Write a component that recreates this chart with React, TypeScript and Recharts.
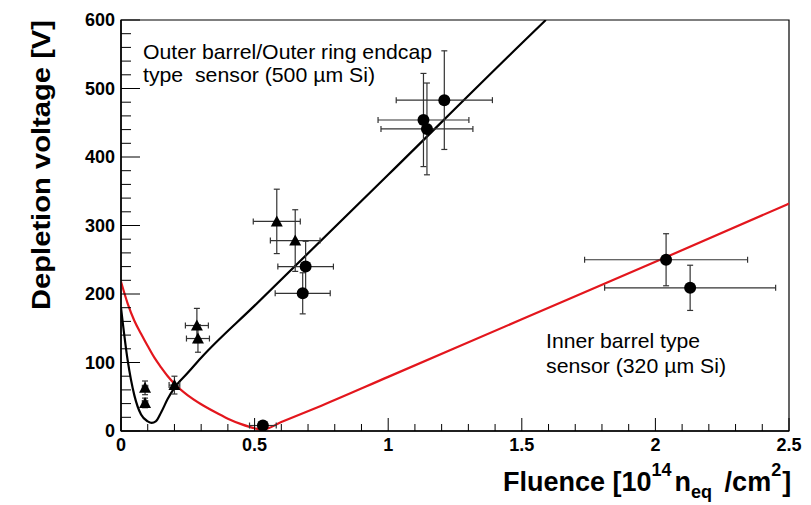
import {
  ComposedChart,
  XAxis,
  YAxis,
  Line,
  Scatter,
  ErrorBar,
  ReferenceArea,
} from 'recharts'

// fit curves
const outerCurveX = [0, 0.025, 0.05, 0.075, 0.1, 0.115, 0.13, 0.15, 0.175, 0.2, 0.25, 0.3, 0.5, 1.0, 1.5, 1.59]
const outerCurveY = [180, 103, 52, 24, 14, 12, 14, 27, 47, 63, 85, 107, 183, 374, 566, 600]

const innerCurveX = [0, 0.025, 0.05, 0.075, 0.1, 0.125, 0.15, 0.175, 0.2, 0.25, 0.3, 0.35, 0.4, 0.45, 0.5, 0.53, 0.6, 0.75, 1.0, 1.5, 2.0, 2.5]
const innerCurveY = [218, 186, 161, 142, 124, 107, 93, 80, 69, 52, 39, 28, 18, 10, 4, 2, 13, 37, 79, 163, 247, 332]

// triangles
const triX = [0.09, 0.09, 0.2, 0.284, 0.288, 0.583, 0.652]
const triY = [63, 41, 67, 154, 135, 306, 278]
const triXErr = [0.01, 0.01, 0.02, 0.043, 0.043, 0.088, 0.093]
const triYErr = [10, 7, 13, 25, 20, 47, 45]

// circles
const dotX = [0.531, 0.691, 0.68, 1.132, 1.145, 1.21, 2.04, 2.13]
const dotY = [8, 240, 201, 454, 441, 483, 250, 209]
const dotXErr = [0.05, 0.104, 0.103, 0.17, 0.172, 0.18, 0.305, 0.32]
const dotYErr = [5, 37, 30, 68, 67, 72, 38, 33]

// minor ticks every 0.1 / 20 V, labels on the majors only
const xTicks = Array.from({ length: 26 }, (_, i) => +(i * 0.1).toFixed(1))
const yTicks = Array.from({ length: 31 }, (_, i) => i * 20)

const outerCurve = outerCurveX.map((x, i) => ({ x, y: outerCurveY[i] }))
const innerCurve = innerCurveX.map((x, i) => ({ x, y: innerCurveY[i] }))
const triData = triX.map((x, i) => ({ x, y: triY[i], ex: triXErr[i], ey: triYErr[i] }))
const dotData = dotX.map((x, i) => ({ x, y: dotY[i], ex: dotXErr[i], ey: dotYErr[i] }))

const font = '"Liberation Sans", Arial, Helvetica, sans-serif'
const MARGIN = 7

const XTick = (props: any) => {
  const { x, y, payload } = props
  const v = payload.value
  const major = Math.abs(v * 2 - Math.round(v * 2)) < 1e-6
  const axisY = y - MARGIN
  return (
    <g>
      <line x1={x} x2={x} y1={axisY} y2={axisY - (major ? 13 : 7)} stroke="#000" />
      {major && (
        <text x={x} y={y} dy="0.71em" textAnchor="middle" fontSize={18} fontWeight="bold" fontFamily={font} fill="#000">
          {String(v)}
        </text>
      )}
    </g>
  )
}

const YTick = (props: any) => {
  const { x, y, payload } = props
  const v = payload.value
  const major = v % 100 === 0
  const axisX = x + MARGIN - 1
  return (
    <g>
      <line x1={axisX} x2={axisX + (major ? 19 : 10)} y1={y} y2={y} stroke="#000" />
      {major && (
        <text x={x} y={y} dy="0.36em" textAnchor="end" fontSize={18} fontWeight="bold" fontFamily={font} fill="#000">
          {String(v)}
        </text>
      )}
    </g>
  )
}

const Triangle = (props: any) => {
  const { cx, cy } = props
  if (cx == null || cy == null) return null
  return <polygon points={`${cx - 6},${cy + 5} ${cx + 6},${cy + 5} ${cx},${cy - 6}`} fill="#000" />
}

const Dot = (props: any) => {
  const { cx, cy } = props
  if (cx == null || cy == null) return null
  return <circle cx={cx} cy={cy} r={6} fill="#000" />
}

const App = () => {
  return (
    <div style={{ position: 'absolute', left: 0, top: 0, width: 811, height: 505, background: '#fff' }}>
      <ComposedChart
        width={811}
        height={505}
        margin={{ top: 20, right: 22, left: 61, bottom: 44 }}
      >
        <XAxis
          dataKey="x"
          type="number"
          domain={[0, 2.5]}
          allowDataOverflow
          ticks={xTicks}
          height={30}
          tickLine={false}
          tickSize={0}
          tickMargin={MARGIN}
          axisLine={{ stroke: '#000', strokeWidth: 1.5 }}
          tick={XTick}
          interval={0}
        />
        <YAxis
          type="number"
          domain={[0, 600]}
          allowDataOverflow
          ticks={yTicks}
          width={60}
          tickLine={false}
          tickSize={0}
          tickMargin={MARGIN - 1}
          axisLine={{ stroke: '#000', strokeWidth: 1.5 }}
          tick={YTick}
          interval={0}
        />
        <ReferenceArea x1={0} x2={2.5} y1={0} y2={600} fill="none" stroke="#000" strokeWidth={1.2} />
        <Line
          data={innerCurve}
          dataKey="y"
          type="monotone"
          stroke="#e3161d"
          strokeWidth={2.2}
          dot={false}
          isAnimationActive={false}
        />
        <Line
          data={outerCurve}
          dataKey="y"
          type="monotone"
          stroke="#000"
          strokeWidth={2.2}
          dot={false}
          isAnimationActive={false}
        />
        <Scatter data={triData} dataKey="y" shape={Triangle} isAnimationActive={false}>
          <ErrorBar dataKey="ex" direction="x" width={3} stroke="#333" strokeWidth={1.2} />
          <ErrorBar dataKey="ey" direction="y" width={3} stroke="#333" strokeWidth={1.2} />
        </Scatter>
        <Scatter data={dotData} dataKey="y" shape={Dot} isAnimationActive={false}>
          <ErrorBar dataKey="ex" direction="x" width={3} stroke="#333" strokeWidth={1.2} />
          <ErrorBar dataKey="ey" direction="y" width={3} stroke="#333" strokeWidth={1.2} />
        </Scatter>
      </ComposedChart>

      <svg
        width={811}
        height={505}
        style={{ position: 'absolute', left: 0, top: 0, pointerEvents: 'none' }}
        fontFamily={font}
      >
        <text x={143} y={59} fontSize={21} textLength={289} lengthAdjust="spacingAndGlyphs">
          Outer barrel/Outer ring endcap
        </text>
        <text x={143} y={82} fontSize={21} textLength={232} lengthAdjust="spacingAndGlyphs" style={{ whiteSpace: 'pre' }}>
          {'type  sensor (500 µm Si)'}
        </text>
        <text x={546} y={348} fontSize={21} textLength={154} lengthAdjust="spacingAndGlyphs">
          Inner barrel type
        </text>
        <text x={546} y={373} fontSize={21} textLength={180} lengthAdjust="spacingAndGlyphs">
          sensor (320 µm Si)
        </text>
        <text
          x={0}
          y={0}
          transform="translate(50,165) rotate(-90)"
          textAnchor="middle"
          fontSize={26}
          fontWeight="bold"
          textLength={290}
          lengthAdjust="spacingAndGlyphs"
        >
          Depletion voltage [V]
        </text>
        <text x={503} y={491} fontSize={27} fontWeight="bold">
          Fluence [10
          <tspan dy={-15} fontSize={18}>14</tspan>
          <tspan dy={15} dx={3}>n</tspan>
          <tspan dy={7} fontSize={18}>eq</tspan>
          <tspan dy={-7} dx={5}> /cm</tspan>
          <tspan dy={-15} fontSize={18}>2</tspan>
          <tspan dy={15} dx={1}>]</tspan>
        </text>
      </svg>
    </div>
  )
}

export default App
